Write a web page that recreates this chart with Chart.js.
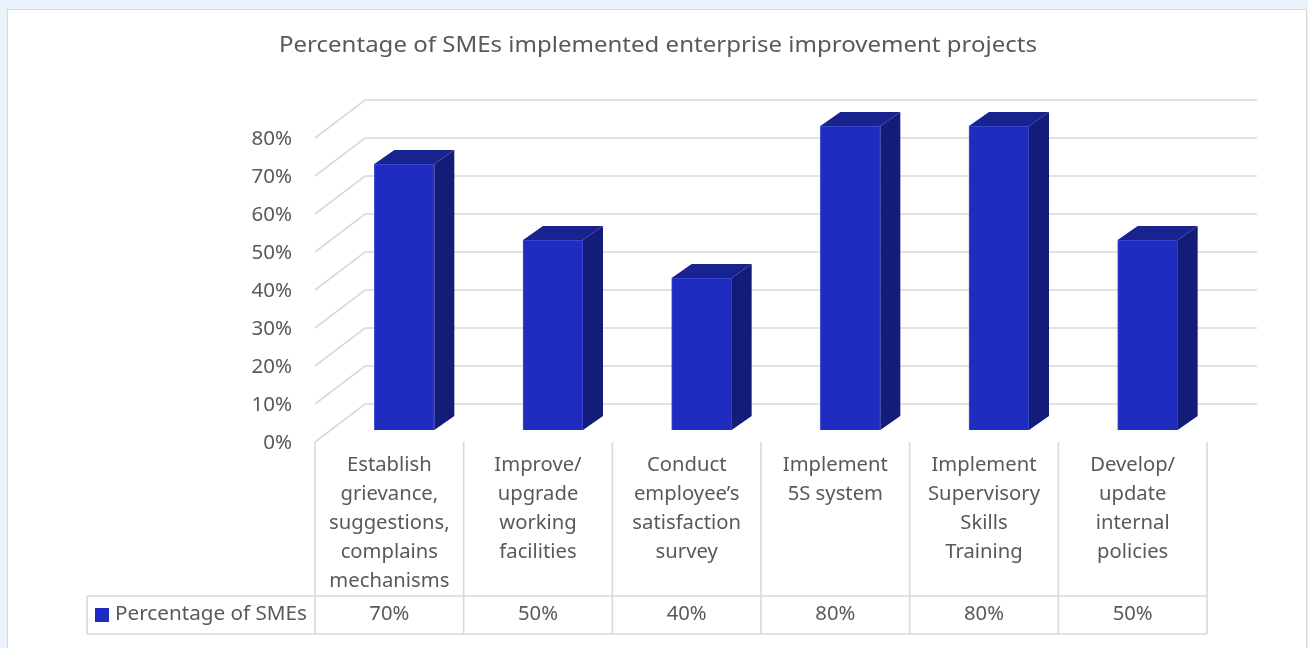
<!DOCTYPE html>
<html>
<head>
<meta charset="utf-8">
<script src="https://cdn.jsdelivr.net/npm/chart.js@4/dist/chart.umd.min.js"></script>
<style>
  html, body { margin: 0; padding: 0; background: #eaf3fb; width: 1308px; height: 648px; overflow: hidden; }
  #panel { position: absolute; left: 7px; top: 9px; width: 1298px; height: 660px; background: #fff; border: 1px solid #d6d9dc; }
  #c { position: absolute; left: 0; top: 0; }
</style>
</head>
<body>
<div id="panel"></div>
<canvas id="c" width="1308" height="648"></canvas>
<script>
const chartTitle = 'Percentage of SMEs implemented enterprise improvement projects';
const seriesName = 'Percentage of SMEs';
const categories = [
  ['Establish', 'grievance,', 'suggestions,', 'complains', 'mechanisms'],
  ['Improve/', 'upgrade', 'working', 'facilities'],
  ['Conduct', 'employee\u2019s', 'satisfaction', 'survey'],
  ['Implement', '5S system'],
  ['Implement', 'Supervisory', 'Skills', 'Training'],
  ['Develop/', 'update', 'internal', 'policies']
];
const values = [70, 50, 40, 80, 80, 50];
const yTicks = [0, 10, 20, 30, 40, 50, 60, 70, 80];

const FONT = '"Noto Sans", "Open Sans", sans-serif';
const TEXT = '#595959';
const GRID = '#d9d9d9';
const FRONT = '#1f2cbf';
const SIDE = '#141c7a';
const TOP = '#18238f';
const BAR_DX = 15, BAR_DY = 12;
const BACK_DX = 50, BACK_DY = 38;
const DEPTH_DX = 20, DEPTH_DY = 14;

function fit(ctx, font, sample, target) {
  ctx.font = font;
  return target / ctx.measureText(sample).width;
}
function txt(ctx, s, x, y, align, k) {
  ctx.save();
  ctx.textAlign = align;
  ctx.textBaseline = 'middle';
  ctx.scale(k, 1);
  ctx.fillText(s, x / k, y);
  ctx.restore();
}

const plugin3d = {
  id: 'plugin3d',
  beforeDatasetsDraw(chart) {
    const ctx = chart.ctx;
    const y = chart.scales.y;
    const ca = chart.chartArea;
    const left = ca.left - BAR_DX, right = ca.right - BAR_DX;
    ctx.save();
    const kt = fit(ctx, '21px ' + FONT, chartTitle, 758);
    ctx.fillStyle = TEXT;
    txt(ctx, chartTitle, 658, 46, 'center', kt);
    ctx.strokeStyle = GRID;
    ctx.lineWidth = 1.6;
    yTicks.forEach(v => {
      const yf = y.getPixelForValue(v) + BAR_DY;
      const yb = yf - BACK_DY;
      ctx.beginPath();
      ctx.moveTo(left, yf);
      ctx.lineTo(left + BACK_DX, yb);
      ctx.lineTo(right + BACK_DX, yb);
      ctx.stroke();
    });
    const ky = fit(ctx, '20px ' + FONT, '80%', 40.5);
    ctx.fillStyle = TEXT;
    yTicks.forEach(v => {
      const yf = y.getPixelForValue(v) + BAR_DY;
      txt(ctx, v + '%', 292, yf + 1, 'right', ky);
    });
    ctx.restore();
  },
  afterDatasetsDraw(chart) {
    const ctx = chart.ctx;
    const meta = chart.getDatasetMeta(0);
    ctx.save();
    meta.data.forEach(bar => {
      const p = bar.getProps(['x', 'y', 'base', 'width'], true);
      const l = p.x - p.width / 2, r = p.x + p.width / 2;
      ctx.fillStyle = SIDE;
      ctx.beginPath();
      ctx.moveTo(r, p.y);
      ctx.lineTo(r + DEPTH_DX, p.y - DEPTH_DY);
      ctx.lineTo(r + DEPTH_DX, p.base - DEPTH_DY);
      ctx.lineTo(r, p.base);
      ctx.closePath();
      ctx.fill();
      ctx.fillStyle = TOP;
      ctx.beginPath();
      ctx.moveTo(l, p.y);
      ctx.lineTo(r, p.y);
      ctx.lineTo(r + DEPTH_DX, p.y - DEPTH_DY);
      ctx.lineTo(l + DEPTH_DX, p.y - DEPTH_DY);
      ctx.closePath();
      ctx.fill();
    });
    ctx.restore();
  },
  afterDraw(chart) {
    const ctx = chart.ctx;
    const x = chart.scales.x, y = chart.scales.y;
    const ca = chart.chartArea;
    const left = ca.left - BAR_DX, right = ca.right - BAR_DX;
    const catW = (right - left) / categories.length;
    const top = y.getPixelForValue(0) + BAR_DY;
    const rowTop = 596, rowBot = 634, tableLeft = 87;
    ctx.save();
    ctx.strokeStyle = GRID;
    ctx.lineWidth = 1.6;
    for (let i = 0; i <= categories.length; i++) {
      const xx = left + i * catW;
      ctx.beginPath();
      ctx.moveTo(xx, top);
      ctx.lineTo(xx, rowBot);
      ctx.stroke();
    }
    ctx.beginPath();
    ctx.moveTo(tableLeft, rowTop); ctx.lineTo(right, rowTop);
    ctx.moveTo(tableLeft, rowBot); ctx.lineTo(right, rowBot);
    ctx.moveTo(tableLeft, rowTop); ctx.lineTo(tableLeft, rowBot);
    ctx.stroke();
    const kc = fit(ctx, '19px ' + FONT, 'mechanisms', 120);
    ctx.fillStyle = TEXT;
    categories.forEach((lines, i) => {
      const cx = x.getPixelForValue(i) - BAR_DX;
      lines.forEach((ln, j) => txt(ctx, ln, cx, 466 + j * 29, 'center', kc));
      txt(ctx, values[i] + '%', cx, 615, 'center', kc);
    });
    ctx.fillStyle = FRONT;
    ctx.fillRect(95, 608, 14, 14);
    const kl = fit(ctx, '19px ' + FONT, seriesName, 192);
    ctx.fillStyle = TEXT;
    txt(ctx, seriesName, 115, 615, 'left', kl);
    ctx.restore();
  }
};

new Chart(document.getElementById('c'), {
  type: 'bar',
  data: {
    labels: categories.map(c => c.join(' ')),
    datasets: [{
      label: seriesName,
      data: values,
      backgroundColor: FRONT,
      borderColor: '#4152d4',
      borderWidth: 1,
      barThickness: 60
    }]
  },
  options: {
    responsive: false,
    animation: false,
    devicePixelRatio: 1,
    layout: { padding: { left: 330, right: 86, top: 126, bottom: 218 } },
    plugins: { legend: { display: false }, tooltip: { enabled: false }, title: { display: false } },
    scales: {
      x: { display: false },
      y: { display: false, min: 0, max: 80 }
    }
  },
  plugins: [plugin3d]
});
</script>
</body>
</html>
